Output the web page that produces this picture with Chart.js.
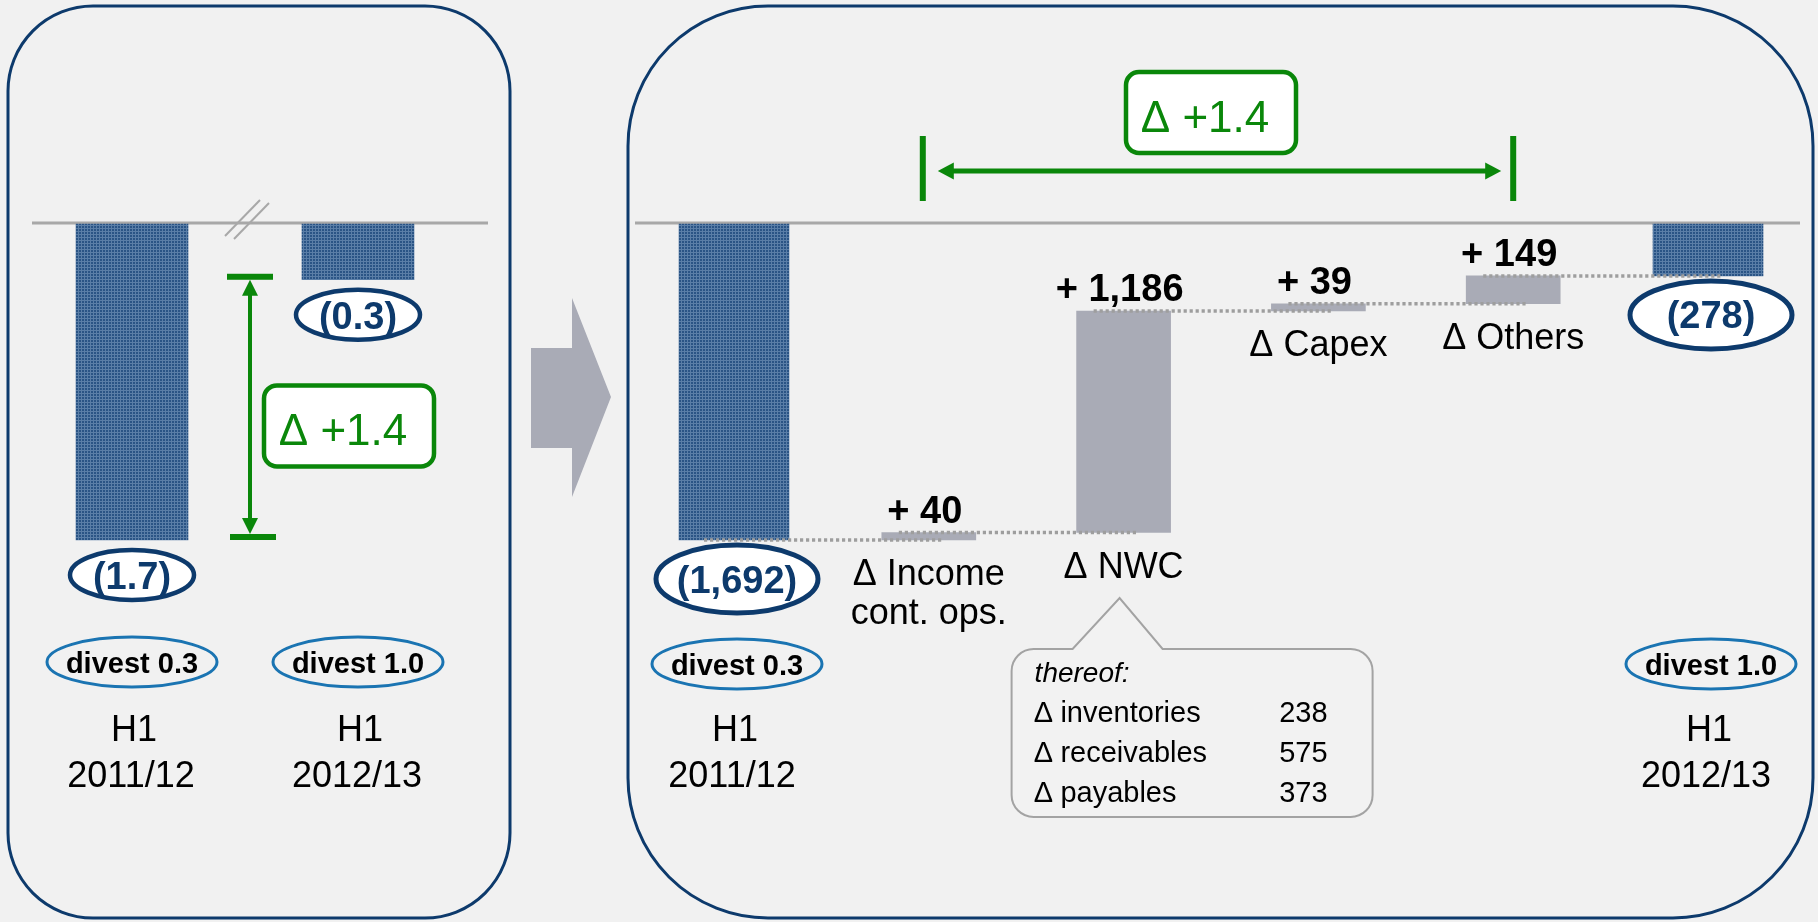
<!DOCTYPE html>
<html><head><meta charset="utf-8">
<script src="https://cdn.jsdelivr.net/npm/chart.js@4.4.0/dist/chart.umd.min.js"></script>
<style>
html,body{margin:0;padding:0;background:#f1f1f1;overflow:hidden;}
#wrap{position:relative;width:1818px;height:922px;}
canvas{position:absolute;left:0;top:0;}
</style></head><body>
<div id="wrap"><canvas id="left" width="1818" height="922"></canvas><canvas id="main" width="1818" height="922"></canvas></div>
<script>
// ---------------- DATA ----------------
const leftCategories = ['H1 2011/12', 'H1 2012/13'];
const leftValues = [-1.7, -0.3];
const leftValueLabels = ['(1.7)', '(0.3)'];
const leftDivest = ['divest 0.3', 'divest 1.0'];
const leftDelta = 'Δ +1.4';

const mainCategories = ['H1 2011/12', 'Δ Income cont. ops.', 'Δ NWC', 'Δ Capex', 'Δ Others', 'H1 2012/13'];
const mainStart = -1692;
const mainSteps = [40, 1186, 39, 149];
const mainEnd = -278;
const mainTotalLabels = ['(1,692)', '(278)'];
const mainStepLabels = ['+ 40', '+ 1,186', '+ 39', '+ 149'];
const mainStepNames = [['Δ Income', 'cont. ops.'], ['Δ NWC'], ['Δ Capex'], ['Δ Others']];
const mainDivest = ['divest 0.3', 'divest 1.0'];
const periodLabels = [['H1', '2011/12'], ['H1', '2012/13']];
const nwcTitle = 'thereof:';
const nwcParts = ['∆ inventories', '∆ receivables', '∆ payables'];
const nwcValues = [238, 575, 373];
const mainDelta = 'Δ +1.4';

// ---------------- STYLE ----------------
const NAVY = '#0d3a6c';
const DIVEST_BLUE = '#1a74b2';
const GREEN = '#0a870a';
const GRAY_BAR = '#a9abb6';
const LINE_GRAY = '#a8a8a8';
const FONT = '"Liberation Sans", Arial, "DejaVu Sans", sans-serif';

function makePattern(canvas) {
  const c = document.createElement('canvas'); c.width = 3; c.height = 3;
  const g = c.getContext('2d');
  g.fillStyle = '#2a5485'; g.fillRect(0, 0, 3, 3);
  g.fillStyle = 'rgba(130,160,195,0.55)'; g.fillRect(0, 0, 3, 1); g.fillRect(0, 1, 1, 2);
  return canvas.getContext('2d').createPattern(c, 'repeat');
}
function txt(ctx, s, x, y, font, color, align) {
  ctx.font = font; ctx.fillStyle = color; ctx.textAlign = align || 'center'; ctx.textBaseline = 'alphabetic';
  ctx.fillText(s, x, y);
}
function rrect(ctx, x, y, w, h, r) {
  ctx.beginPath(); ctx.moveTo(x + r, y);
  ctx.arcTo(x + w, y, x + w, y + h, r); ctx.arcTo(x + w, y + h, x, y + h, r);
  ctx.arcTo(x, y + h, x, y, r); ctx.arcTo(x, y, x + w, y, r); ctx.closePath();
}
function ellipse(ctx, cx, cy, rx, ry, stroke, lw, fill) {
  ctx.beginPath(); ctx.ellipse(cx, cy, rx, ry, 0, 0, Math.PI * 2);
  if (fill) { ctx.fillStyle = fill; ctx.fill(); }
  ctx.lineWidth = lw; ctx.strokeStyle = stroke; ctx.stroke();
}
function head(ctx, x, y, ang, len, half, color) {
  ctx.save(); ctx.translate(x, y); ctx.rotate(ang); ctx.fillStyle = color;
  ctx.beginPath(); ctx.moveTo(0, 0); ctx.lineTo(-len, -half); ctx.lineTo(-len, half); ctx.closePath(); ctx.fill();
  ctx.restore();
}
function deltaBox(ctx, cx, cy, label) {
  const w = 170, h = 81;
  rrect(ctx, cx - w / 2, cy - h / 2, w, h, 13);
  ctx.fillStyle = '#ffffff'; ctx.fill(); ctx.lineWidth = 4.5; ctx.strokeStyle = GREEN; ctx.stroke();
  txt(ctx, label, cx - 6, cy + 19, `44px ${FONT}`, GREEN);
}
function divestTag(ctx, cx, cy, label) {
  ellipse(ctx, cx, cy, 85, 25, DIVEST_BLUE, 3);
  txt(ctx, label, cx, cy + 10.5, `bold 29px ${FONT}`, '#000');
}
function periodTag(ctx, cx, lines) {
  txt(ctx, lines[0], cx, 741, `36px ${FONT}`, '#000');
  txt(ctx, lines[1], cx - 3, 787, `36px ${FONT}`, '#000');
}

// ---------------- LEFT CHART ----------------
const leftCanvas = document.getElementById('left');
const L_PX = 316 / 1.7;                     // pixels per unit
const L_MAX = 1, L_MIN = -3;
const L_TOP = 224 - L_MAX * L_PX;
const L_BOT = 922 - (L_TOP + (L_MAX - L_MIN) * L_PX);

const leftDecor = {
  id: 'leftDecor',
  beforeDraw(chart) {
    const ctx = chart.ctx;
    ctx.save();
    ctx.fillStyle = '#f1f1f1'; ctx.fillRect(0, 0, chart.width, chart.height);
    ctx.lineWidth = 3; ctx.strokeStyle = NAVY;
    rrect(ctx, 8, 6, 502, 912, 85); ctx.stroke();
    rrect(ctx, 628, 6, 1185, 912, 140); ctx.stroke();
    ctx.fillStyle = GRAY_BAR; ctx.beginPath();
    ctx.moveTo(531, 348); ctx.lineTo(572, 348); ctx.lineTo(572, 298); ctx.lineTo(611, 397);
    ctx.lineTo(572, 497); ctx.lineTo(572, 448); ctx.lineTo(531, 448); ctx.closePath(); ctx.fill();
    ctx.restore();
  },
  beforeDatasetsDraw(chart) {
    const ctx = chart.ctx, y0 = chart.scales.y.getPixelForValue(0);
    ctx.save(); ctx.strokeStyle = LINE_GRAY; ctx.lineWidth = 3;
    ctx.beginPath(); ctx.moveTo(32, y0 - 1); ctx.lineTo(488, y0 - 1); ctx.stroke(); ctx.restore();
  },
  afterDatasetsDraw(chart) {
    const ctx = chart.ctx, xs = chart.scales.x, ys = chart.scales.y;
    const x0 = xs.getPixelForValue(0), x1 = xs.getPixelForValue(1);
    ctx.save();
    const mx = (x0 + x1) / 2;
    ctx.strokeStyle = '#a8a8a8'; ctx.lineWidth = 2;
    ctx.beginPath(); ctx.moveTo(mx - 20, 236); ctx.lineTo(mx + 15, 200); ctx.stroke();
    ctx.beginPath(); ctx.moveTo(mx - 11, 239); ctx.lineTo(mx + 24, 203); ctx.stroke();
    const ax = mx + 5;
    const yA = ys.getPixelForValue(leftValues[1]) - 3, yB = ys.getPixelForValue(leftValues[0]) - 3;
    ctx.fillStyle = GREEN; ctx.strokeStyle = GREEN;
    ctx.fillRect(ax - 23, yA - 3, 46, 6);
    ctx.fillRect(ax - 20, yB - 3, 46, 6);
    ctx.lineWidth = 4; ctx.beginPath(); ctx.moveTo(ax, yA + 12); ctx.lineTo(ax, yB - 12); ctx.stroke();
    head(ctx, ax, yA + 3, -Math.PI / 2, 16, 8, GREEN);
    head(ctx, ax, yB - 3, Math.PI / 2, 16, 8, GREEN);
    deltaBox(ctx, ax + 99, (yA + yB) / 2 + 19, leftDelta);
    leftValues.forEach((v, i) => {
      const cx = xs.getPixelForValue(i), cy = ys.getPixelForValue(v) + 35;
      ellipse(ctx, cx, cy, 62, 25, NAVY, 4.5, '#ffffff');
      txt(ctx, leftValueLabels[i], cx, cy + 14, `bold 38px ${FONT}`, NAVY);
      divestTag(ctx, cx, 662, leftDivest[i]);
      periodTag(ctx, cx + 2, periodLabels[i]);
    });
    ctx.restore();
  }
};

new Chart(leftCanvas, {
  type: 'bar',
  data: { labels: leftCategories, datasets: [{ data: leftValues, backgroundColor: makePattern(leftCanvas), barThickness: 112, borderWidth: 0 }] },
  options: {
    responsive: false, animation: false, devicePixelRatio: 1, events: [],
    layout: { padding: { left: 19, right: 1818 - 471, top: L_TOP, bottom: L_BOT } },
    plugins: { legend: { display: false }, tooltip: { enabled: false } },
    scales: { x: { display: false }, y: { display: false, min: L_MIN, max: L_MAX } }
  },
  plugins: [leftDecor]
});

// ---------------- MAIN CHART ----------------
const mainCanvas = document.getElementById('main');
const totals = mainCategories.map(() => null);
totals[0] = [0, mainStart];
totals[mainCategories.length - 1] = [0, mainEnd];
const stepBars = mainCategories.map(() => null);
let run = mainStart;
mainSteps.forEach((s, i) => { stepBars[i + 1] = [run, run + s]; run += s; });
const levels = [mainStart];
stepBars.forEach(b => { if (b) levels.push(b[1]); });

const M_PX = 316 / 1692;
const M_MAX = 1000, M_MIN = -3000;
const M_TOP = 224 - M_MAX * M_PX;
const M_BOT = 922 - (M_TOP + (M_MAX - M_MIN) * M_PX);
const M_LEFT = 636.6, M_RIGHT = 1805.4;

const mainDecor = {
  id: 'mainDecor',
  beforeDatasetsDraw(chart) {
    const ctx = chart.ctx, y0 = chart.scales.y.getPixelForValue(0);
    ctx.save(); ctx.strokeStyle = LINE_GRAY; ctx.lineWidth = 3;
    ctx.beginPath(); ctx.moveTo(635, y0 - 1); ctx.lineTo(1800, y0 - 1); ctx.stroke();
    ctx.restore();
  },
  afterDatasetsDraw(chart) {
    const ctx = chart.ctx, xs = chart.scales.x, ys = chart.scales.y;
    const X = i => xs.getPixelForValue(i), Y = v => ys.getPixelForValue(v);
    const n = mainCategories.length;
    ctx.save();
    // dotted connectors
    ctx.strokeStyle = '#9e9e9e'; ctx.lineWidth = 3.5; ctx.setLineDash([3.2, 2.8]);
    levels.forEach((lv, i) => {
      if (i >= n - 1) return;
      const y = Y(lv);
      ctx.beginPath(); ctx.moveTo(X(i) - 30, y); ctx.lineTo(X(i + 1) + 15, y); ctx.stroke();
    });
    ctx.setLineDash([]);
    // step labels
    mainSteps.forEach((s, k) => {
      const i = k + 1, b = stepBars[i];
      const yTop = Y(Math.max(b[0], b[1])), yBot = Y(Math.min(b[0], b[1]));
      txt(ctx, mainStepLabels[k], X(i) - 4, yTop - 10, `bold 38px ${FONT}`, '#000');
      mainStepNames[k].forEach((ln, j) => txt(ctx, ln, X(i), yBot + 45 + j * 39, `36px ${FONT}`, '#000'));
    });
    // totals
    [0, n - 1].forEach((i, k) => {
      const v = totals[i][1];
      const cx = X(i) + 3, cy = Y(v) + 39;
      ellipse(ctx, cx, cy, 81, 34, NAVY, 5, '#ffffff');
      txt(ctx, mainTotalLabels[k], cx, cy + 13.5, `bold 38px ${FONT}`, NAVY);
      divestTag(ctx, cx, 664, mainDivest[k]);
      periodTag(ctx, cx - 2, periodLabels[k]);
    });
    // green horizontal delta arrow
    const t1 = X(1) - 6, t2 = X(4), ay = 171;
    ctx.fillStyle = GREEN; ctx.strokeStyle = GREEN;
    ctx.fillRect(t1 - 3, 136, 6, 65); ctx.fillRect(t2 - 3, 136, 6, 65);
    ctx.lineWidth = 5; ctx.beginPath(); ctx.moveTo(t1 + 25, ay); ctx.lineTo(t2 - 22, ay); ctx.stroke();
    head(ctx, t1 + 15, ay, Math.PI, 16, 8.5, GREEN);
    head(ctx, t2 - 12, ay, 0, 16, 8.5, GREEN);
    deltaBox(ctx, (t1 + t2) / 2 - 7, 112.5, mainDelta);
    // NWC callout
    const tip = X(2) - 4, L = tip - 108, R = tip + 253, T = 649, B = 817, r = 22;
    ctx.beginPath();
    ctx.moveTo(L + r, T); ctx.lineTo(tip - 47, T); ctx.lineTo(tip, 598); ctx.lineTo(tip + 43, T); ctx.lineTo(R - r, T);
    ctx.arcTo(R, T, R, T + r, r); ctx.lineTo(R, B - r); ctx.arcTo(R, B, R - r, B, r);
    ctx.lineTo(L + r, B); ctx.arcTo(L, B, L, B - r, r); ctx.lineTo(L, T + r); ctx.arcTo(L, T, L + r, T, r);
    ctx.closePath();
    ctx.fillStyle = '#f2f2f2'; ctx.fill(); ctx.lineWidth = 2; ctx.strokeStyle = '#a3a3a3'; ctx.stroke();
    txt(ctx, nwcTitle, L + 23, 682, `italic 28px ${FONT}`, '#000', 'left');
    nwcParts.forEach((p, j) => {
      const by = 722 + j * 40;
      txt(ctx, p, L + 23, by, `29px ${FONT}`, '#000', 'left');
      txt(ctx, String(nwcValues[j]), L + 316, by, `29px ${FONT}`, '#000', 'right');
    });
    ctx.restore();
  }
};

new Chart(mainCanvas, {
  type: 'bar',
  data: {
    labels: mainCategories,
    datasets: [
      { data: totals, backgroundColor: makePattern(mainCanvas), barThickness: 110, borderWidth: 0, grouped: false },
      { data: stepBars, backgroundColor: GRAY_BAR, barThickness: 94, borderWidth: 0, grouped: false }
    ]
  },
  options: {
    responsive: false, animation: false, devicePixelRatio: 1, events: [],
    layout: { padding: { left: M_LEFT, right: 1818 - M_RIGHT, top: M_TOP, bottom: M_BOT } },
    plugins: { legend: { display: false }, tooltip: { enabled: false } },
    scales: { x: { display: false }, y: { display: false, min: M_MIN, max: M_MAX } }
  },
  plugins: [mainDecor]
});
</script>
</body></html>
